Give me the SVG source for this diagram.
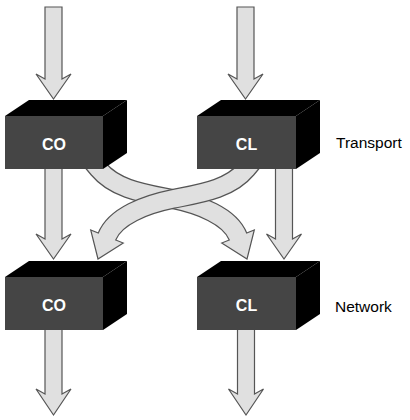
<svg xmlns="http://www.w3.org/2000/svg" width="410" height="420" viewBox="0 0 410 420">
<defs>
<style>
.arrow{fill:#e0e0e0;stroke:#555;stroke-width:1.2;stroke-linejoin:miter}
.band-out{fill:none;stroke:#555;stroke-width:19.9}
.band-in{fill:none;stroke:#e0e0e0;stroke-width:17.5}
.front{fill:#454545}
.side{fill:#000}
.lbl{font-family:"Liberation Sans",Arial,sans-serif;font-weight:bold;font-size:16px;fill:#fff;text-anchor:middle}
.layer{font-family:"Liberation Sans",Arial,sans-serif;font-size:15.5px;fill:#000}
</style>
</defs>
<rect width="410" height="420" fill="#fff"/>
<g id="connectors">
<polygon class="arrow" points="45,7 62,7 62,79 71,74 53.5,99 36,74 45,79"/>
<polygon class="arrow" points="237,7 254,7 254,79 263,74 245.5,99 228,74 237,79"/>
<polygon class="arrow" points="45,165 62,165 62,239 71,234 53.5,259 36,234 45,239"/>
<polygon class="arrow" points="275.5,165 292.5,165 292.5,239 301.5,234 284,259 266.5,234 275.5,239"/>
<polygon class="arrow" points="45,325 62,325 62,394 71,389 53.5,415 36,389 45,394"/>
<polygon class="arrow" points="237.5,325 254.5,325 254.5,394 263.5,389 246,415 228.5,389 237.5,394"/>
<g id="co-to-cl">
<path class="band-out" d="M88.9,157.5 L98.5,169 C115.8,189.8 146,193.6 172.5,199 C199,204.4 229.9,216 238,236.5"/>
<polygon class="arrow" points="221.7,243 247,259 254.3,230"/>
<path class="band-in" d="M88.9,157.5 L98.5,169 C115.8,189.8 146,193.6 172.5,199 C199,204.4 229.9,216 238,236.5 L239.1,239.3"/>
</g>
<g id="cl-to-co">
<path class="band-out" d="M256.1,157.5 L246.5,169 C229.2,189.8 199,193.6 172.5,199 C146,204.4 115.1,216 107,236.5"/>
<polygon class="arrow" points="123.3,243 98,259 90.7,230"/>
<path class="band-in" d="M256.1,157.5 L246.5,169 C229.2,189.8 199,193.6 172.5,199 C146,204.4 115.1,216 107,236.5 L105.9,239.3"/>
</g>
</g>
<g id="transport-co">
<rect class="front" x="5" y="116" width="98" height="53"/>
<polygon class="side" points="5,116 29,100 127,100 103,116"/>
<polygon class="side" points="103,116 127,100 127,153 103,169"/>
<text class="lbl" x="54" y="150">CO</text>
</g>
<g id="transport-cl">
<rect class="front" x="197" y="116" width="99" height="53"/>
<polygon class="side" points="197,116 221,100 320,100 296,116"/>
<polygon class="side" points="296,116 320,100 320,153 296,169"/>
<text class="lbl" x="246.5" y="150">CL</text>
</g>
<g id="network-co">
<rect class="front" x="5" y="277" width="98" height="53"/>
<polygon class="side" points="5,277 29,261 127,261 103,277"/>
<polygon class="side" points="103,277 127,261 127,314 103,330"/>
<text class="lbl" x="54" y="311">CO</text>
</g>
<g id="network-cl">
<rect class="front" x="197" y="277" width="99" height="53"/>
<polygon class="side" points="197,277 221,261 320,261 296,277"/>
<polygon class="side" points="296,277 320,261 320,314 296,330"/>
<text class="lbl" x="246.5" y="311">CL</text>
</g>
<text class="layer" x="336" y="148">Transport</text>
<text class="layer" x="335" y="312">Network</text>
</svg>
